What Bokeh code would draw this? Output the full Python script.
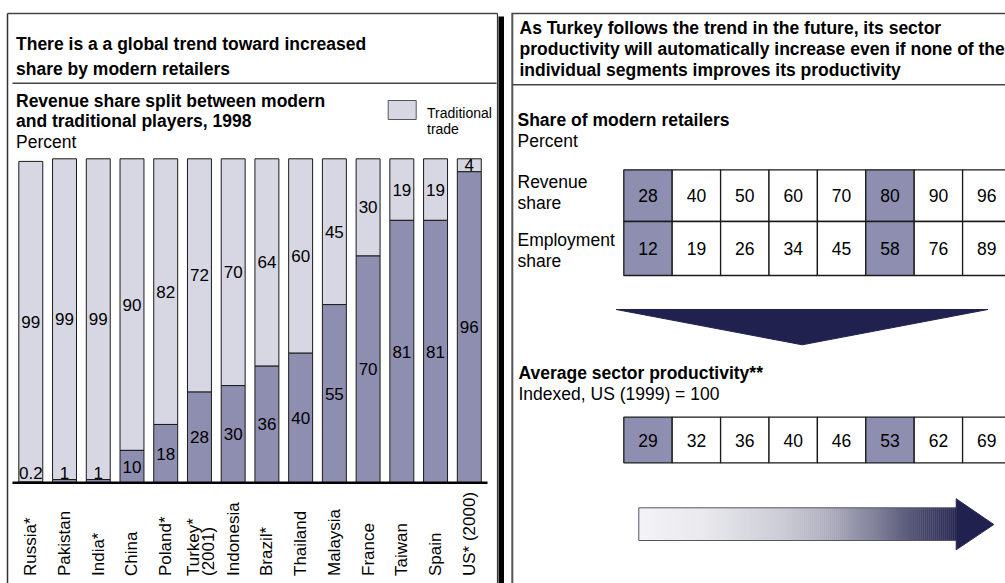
import math

from bokeh.core.properties import value
from bokeh.embed import file_html
from bokeh.models import ColumnDataSource, Range1d
from bokeh.plotting import figure
from bokeh.resources import INLINE

# ---- data -------------------------------------------------------------
countries = ["Russia*", "Pakistan", "India*", "China", "Poland*",
             "Turkey*\n(2001)", "Indonesia", "Brazil*", "Thailand",
             "Malaysia", "France", "Taiwan", "Spain", "US* (2000)"]
modern_share = [0.2, 1, 1, 10, 18, 28, 30, 36, 40, 55, 70, 81, 81, 96]
traditional_share = [99, 99, 99, 90, 82, 72, 70, 64, 60, 45, 30, 19, 19, 4]

revenue_share = [28, 40, 50, 60, 70, 80, 90, 96]
employment_share = [12, 19, 26, 34, 45, 58, 76, 89]
sector_productivity = [29, 32, 36, 40, 46, 53, 62, 69]
highlighted_steps = [0, 5]

# ---- styling ----------------------------------------------------------
W, H = 1005, 583
FONT = "Liberation Sans"
LIGHT = "#d7d7e3"
MODERN = "#8e8eb0"
NAVY = "#212150"
EDGE = "#1a1a1a"

# page figure in pixel units, y growing downwards
p = figure(width=W, height=H, x_range=Range1d(0, W), y_range=Range1d(H, 0),
           output_backend="svg", toolbar_location=None,
           x_axis_type=None, y_axis_type=None, min_border=0,
           outline_line_color=None, background_fill_color="white",
           border_fill_color="white")

# scales for the bar chart (bar index / percent) and the scenario tables
BAR_X0, BAR_STEP = 30.3, 33.73
BASE_Y, PX_PER_PCT = 482.3, 3.24
COL_X0, COL_STEP = 647.5, 48.4
p.extra_x_ranges["bx"] = Range1d(-BAR_X0 / BAR_STEP, (W - BAR_X0) / BAR_STEP)
p.extra_y_ranges["by"] = Range1d((BASE_Y - H) / PX_PER_PCT, BASE_Y / PX_PER_PCT)
p.extra_x_ranges["tx"] = Range1d(-COL_X0 / COL_STEP, (W - COL_X0) / COL_STEP)


def label(x, y, s, size=17.5, bold=False, align="left", **kw):
    p.text(x=[x], y=[y], text=[s], text_font=value(FONT),
           text_font_size=f"{size}px",
           text_font_style="bold" if bold else "normal",
           text_align=align, text_baseline="middle", text_color="black", **kw)


# ---- panel frames -----------------------------------------------------
p.line([7, 7], [13, H], line_color="#333333", line_width=1.5)
p.line([7, 497], [13, 13], line_color="#444444", line_width=1.5)
p.line([497, 497], [13, H], line_color="#333333", line_width=1.2)
p.quad(left=498, right=503.5, top=16, bottom=H, fill_color="black", line_color=None)
p.line([12, 496], [82.7, 82.7], line_color="#444444", line_width=1.5)

p.line([511.8, 511.8], [13, H], line_color="#555555", line_width=2)
p.line([511, W], [13, 13], line_color="#444444", line_width=1.5)
p.line([512, W], [84.3, 84.3], line_color="#444444", line_width=1.5)

# ---- left panel: headings and legend -----------------------------------
label(15.5, 43.5, "There is a a global trend toward increased", bold=True)
label(15.5, 68.5, "share by modern retailers", bold=True)
label(15.5, 100, "Revenue share split between modern", bold=True)
label(15.5, 120, "and traditional players, 1998", bold=True)
label(15.5, 141.5, "Percent")

p.quad(left=387.7, right=415.7, top=100, bottom=119, fill_color=LIGHT,
       line_color="#555555", line_width=1)
label(426.5, 112, "Traditional", size=14)
label(426.5, 128.5, "trade", size=14)

# ---- stacked bars -----------------------------------------------------
idx = list(range(len(countries)))
bars = ColumnDataSource(dict(
    x=idx,
    modern=modern_share,
    top=[m + t for m, t in zip(modern_share, traditional_share)],
    modern_lab=[f"{v:g}" for v in modern_share],
    trad_lab=[f"{v:g}" for v in traditional_share],
    modern_y=[max(m / 2, 3) for m in modern_share],
    trad_y=[m + t / 2 for m, t in zip(modern_share, traditional_share)],
))
p.vbar(x="x", width=0.71, bottom="modern", top="top", source=bars,
       fill_color=LIGHT, line_color=EDGE, line_width=1,
       x_range_name="bx", y_range_name="by")
p.vbar(x="x", width=0.71, bottom=0, top="modern", source=bars,
       fill_color=MODERN, line_color=EDGE, line_width=1,
       x_range_name="bx", y_range_name="by")

common = dict(source=bars, text_font=value(FONT), text_font_size="17px",
              text_align="center", text_baseline="middle", text_color="black",
              x_range_name="bx", y_range_name="by")
p.text(x="x", y="trad_y", text="trad_lab", **common)
p.text(x="x", y="modern_y", text="modern_lab", **common)

# baseline
p.line([12, 487], [BASE_Y, BASE_Y], line_color="black", line_width=2.5)

# rotated country names
LINE_GAP = 15.6
for i, name in enumerate(countries):
    parts = name.split("\n")
    n = len(parts)
    for k, part in enumerate(parts):
        p.text(x=[i], y=[575.5], text=[part], angle=math.pi / 2,
               x_offset=(k - (n - 1) / 2) * LINE_GAP + (1.5 if n > 1 else 0),
               text_font=value(FONT), text_font_size="17px",
               text_align="left", text_baseline="middle", text_color="black",
               x_range_name="bx")

# ---- right panel ------------------------------------------------------
label(519, 27, "As Turkey follows the trend in the future, its sector", bold=True)
label(519, 48.5, "productivity will automatically increase even if none of the", bold=True)
label(519, 69.5, "individual segments improves its productivity", bold=True)

label(517, 119, "Share of modern retailers", bold=True)
label(517, 140.5, "Percent")
label(517, 181, "Revenue")
label(517, 202, "share")
label(517, 239.5, "Employment")
label(517, 260.5, "share")


def table_row(values, top, bottom):
    cols = list(range(len(values)))
    fills = [MODERN if c in highlighted_steps else "white" for c in cols]
    src = ColumnDataSource(dict(
        l=[c - 0.5 for c in cols], r=[c + 0.5 for c in cols],
        x=cols, fill=fills, lab=[str(v) for v in values],
        y=[(top + bottom) / 2] * len(cols)))
    p.quad(left="l", right="r", top=top, bottom=bottom, source=src,
           fill_color="fill", line_color=EDGE, line_width=1.3,
           x_range_name="tx")
    p.text(x="x", y="y", text="lab", source=src, text_font=value(FONT),
           text_font_size="17.5px", text_align="center",
           text_baseline="middle", text_color="black", x_range_name="tx")


table_row(revenue_share, 169.3, 221)
table_row(employment_share, 221, 275)

# downward arrow between the tables
p.patch([615.7, 987.3, 801.7], [309, 309, 344.3], fill_color=NAVY,
        line_color=NAVY, line_width=1)

label(518, 372, "Average sector productivity**", bold=True)
label(518, 393.5, "Indexed, US (1999) = 100")
table_row(sector_productivity, 416.7, 462.3)

# shaded arrow pointing right
stops = [(0.0, (244, 244, 247)), (0.2, (232, 232, 237)), (0.45, (205, 205, 214)),
         (0.6, (172, 172, 188)), (0.75, (128, 128, 152)), (0.9, (72, 72, 108)),
         (1.0, (40, 40, 82))]


def shade(t):
    for (t0, c0), (t1, c1) in zip(stops, stops[1:]):
        if t <= t1:
            f = (t - t0) / (t1 - t0)
            return "#%02x%02x%02x" % tuple(round(a + (b - a) * f) for a, b in zip(c0, c1))
    return "#%02x%02x%02x" % stops[-1][1]


x0, x1, n = 638.3, 955.7, 160
step = (x1 - x0) / n
p.quad(left=[x0 + j * step for j in range(n)],
       right=[x0 + (j + 1) * step + 0.4 for j in range(n)],
       top=507.3, bottom=540, fill_color=[shade((j + 0.5) / n) for j in range(n)],
       line_color=None)
p.line([955.7, x0, x0, 955.7], [507.3, 507.3, 540, 540], line_color="#555566", line_width=1)
p.patch([955.7, 955.7, 993.3, 955.7, 955.7], [507.3, 498.3, 524, 549.3, 540],
        fill_color=NAVY, line_color="#2a2a55", line_width=1)

open("out.html", "w").write(file_html(p, INLINE))
